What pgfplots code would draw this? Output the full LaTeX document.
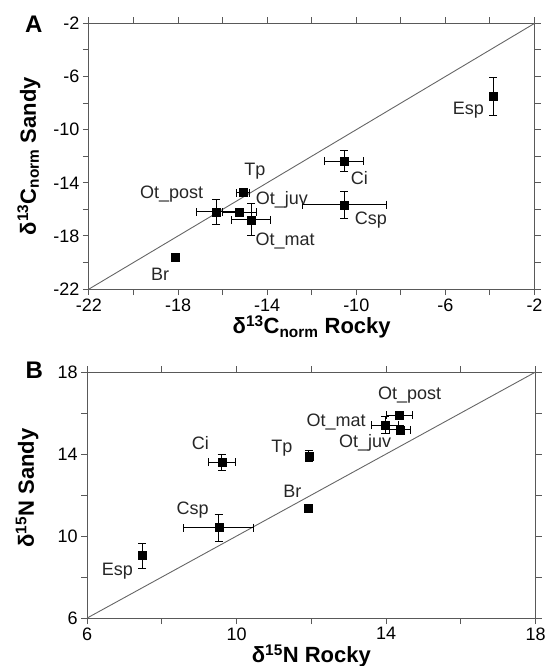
\documentclass[border=0pt]{standalone}
\usepackage{fontspec}
\setmainfont{Liberation Sans}
\usepackage{pgfplots}
\pgfplotsset{compat=1.18}

\newcommand{\lab}[3]{\node[font=\fontsize{18}{20}\selectfont, text=black!85, inner sep=0pt] at (axis cs:#1,#2) {#3};}

\pgfplotsset{
  panel/.style={
    scale only axis,
    clip=false,
    tick align=outside,
    major tick length=6pt,
    minor tick length=6pt,
    minor tick num=1,
    axis line style={black!65, line width=1pt},
    tick style={black!65, line width=1pt},
    ticklabel style={font=\fontsize{18}{20}\selectfont, text=black},
    /pgf/number format/assume math mode=true,
    every axis y label/.style={at={(axis description cs:0,0.5)}, rotate=90, anchor=center, yshift=60pt,
      font=\bfseries\fontsize{22}{24}\selectfont},
    every axis x label/.style={at={(axis description cs:0.5,0)}, anchor=center, yshift=-38pt,
      font=\bfseries\fontsize{22}{24}\selectfont},
  },
  pts/.style={
    only marks, mark=square*, mark size=4pt, black,
    error bars/.cd,
      x dir=both, x explicit, y dir=both, y explicit,
      error bar style={black, line width=0.9pt},
      error mark options={rotate=90, mark size=4pt, line width=0.9pt},
  },
  diag/.style={no marks, black!60, line width=0.9pt},
}

\begin{document}
\begin{tikzpicture}
\path[use as bounding box] (-88.9pt,-376.9pt) rectangle (457.1pt,289.1pt);

% panel A
\begin{axis}[panel,
  at={(0pt,0pt)}, anchor=south west,
  width=445.6pt, height=265.7pt,
  xmin=-22, xmax=-2, ymin=-22, ymax=-2,
  xtick={-22,-18,...,-2}, ytick={-22,-18,...,-2},
  xlabel={δ\textsuperscript{13}C\textsubscript{norm} Rocky},
  ylabel={δ\textsuperscript{13}C\textsubscript{norm} Sandy},
]
\addplot[diag] coordinates {(-22,-22) (-2,-2)};
\addplot[pts] coordinates {
  (-3.86,-7.49) +- (0,1.41)
  (-10.54,-12.36) +- (0.87,0.82)
  (-10.54,-15.65) +- (1.89,1.0)
  (-15.08,-14.73) +- (0.28,0.12)
  (-16.29,-16.18) +- (0.87,0.92)
  (-15.24,-16.2) +- (0.75,0.15)
  (-14.72,-16.78) +- (0.87,1.19)
  (-18.13,-19.6) +- (0.15,0.12)
};
\lab{-4.97}{-8.53}{Esp}
\lab{-9.86}{-13.62}{Ci}
\lab{-9.34}{-16.84}{Csp}
\lab{-14.55}{-13.15}{Tp}
\lab{-18.29}{-14.86}{Ot\_post}
\lab{-13.34}{-15.25}{Ot\_juv}
\lab{-13.19}{-18.36}{Ot\_mat}
\lab{-18.8}{-20.92}{Br}
\node[font=\bfseries\fontsize{24}{26}\selectfont, xshift=-55pt, yshift=-1pt] at (rel axis cs:0,1) {A};
\end{axis}

% panel B
\begin{axis}[panel,
  at={(-1.7pt,-328.9pt)}, anchor=south west,
  width=448.4pt, height=246pt,
  xmin=6, xmax=18, ymin=6, ymax=18,
  xtick={6,10,...,18}, ytick={6,10,...,18},
  xlabel={δ\textsuperscript{15}N Rocky},
  ylabel={δ\textsuperscript{15}N Sandy},
  ylabel style={xshift=7pt},
]
\addplot[diag] coordinates {(6,6) (18,18)};
\addplot[pts] coordinates {
  (14.35,15.9) +- (0.35,0.1)
  (13.97,15.41) +- (0.37,0.4)
  (14.37,15.18) +- (0.27,0.2)
  (11.93,13.9) +- (0.05,0.25)
  (9.6,13.6) +- (0.36,0.38)
  (11.91,11.38) +- (0,0)
  (9.52,10.41) +- (0.94,0.66)
  (7.47,9.04) +- (0,0.61)
};
\lab{14.63}{16.89}{Ot\_post}
\lab{12.66}{15.58}{Ot\_mat}
\lab{13.44}{14.55}{Ot\_juv}
\lab{11.21}{14.28}{Tp}
\lab{9.03}{14.55}{Ci}
\lab{11.49}{12.16}{Br}
\lab{8.82}{11.26}{Csp}
\lab{6.81}{8.27}{Esp}
\node[font=\bfseries\fontsize{24}{26}\selectfont, xshift=-53pt, yshift=2pt] at (rel axis cs:0,1) {B};
\end{axis}
\end{tikzpicture}
\end{document}
